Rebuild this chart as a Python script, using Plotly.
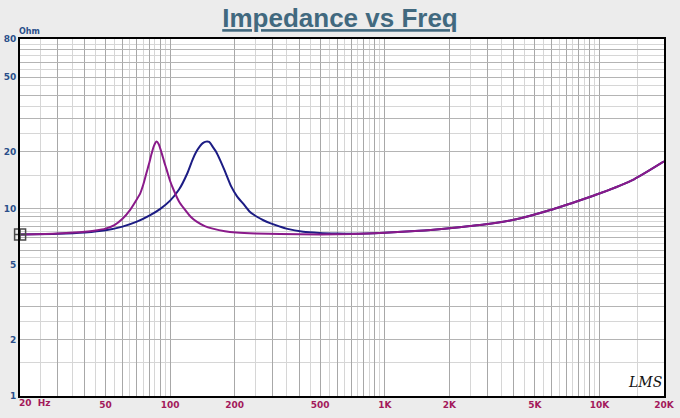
import math
import plotly.graph_objects as go

# --- data ---
freq_a = [20, 30, 40, 45, 50, 55, 60, 65, 70, 72.5, 75, 77.5, 80, 82, 84, 86.5, 88.5,
          91.5, 94, 96.5, 100, 104, 110, 116, 125, 133, 145, 158, 180, 203, 250, 325,
          500, 700, 1000, 1450, 2000, 2500, 2900, 4100, 5900, 8400, 10000, 14500, 20000]
z_a = [7.27, 7.36, 7.5, 7.62, 7.8, 8.15, 8.8, 9.8, 11.2, 12.0, 13.4, 15.4, 17.5, 19.6,
       21.5, 22.7, 22.0, 19.6, 17.6, 16.0, 14.0, 12.5, 10.9, 10.0, 9.0, 8.5, 8.05, 7.8,
       7.55, 7.43, 7.34, 7.3, 7.27, 7.3, 7.42, 7.6, 7.85, 8.05, 8.2, 8.75, 9.8, 11.2,
       12.0, 14.3, 17.8]

freq_b = [20, 30, 40, 50, 60, 70, 80, 90, 100, 110, 120, 127, 132,
          137.5, 142, 147, 152, 158, 164, 171, 180, 192.5, 205, 219, 235, 255, 272, 292,
          325, 348, 417, 497, 600, 711, 1000, 1450, 2000, 2500, 2900, 4100, 5900, 8400,
          10000, 14500, 20000]
z_b = [7.27, 7.33, 7.45, 7.65, 8.0, 8.5, 9.15, 9.95, 11.0, 12.6, 15.3,
       18.1, 19.9, 21.4, 22.3, 22.7, 22.6, 21.3, 20.0, 18.1, 15.8, 13.1, 11.6, 10.6,
       9.6, 9.0, 8.65, 8.35, 8.0, 7.8, 7.5, 7.4, 7.35, 7.33, 7.42, 7.6, 7.85, 8.05, 8.2,
       8.75, 9.8, 11.2, 12.0, 14.3, 17.8]

x_labels = {50: "50", 100: "100", 200: "200", 500: "500", 1000: "1K",
            2000: "2K", 5000: "5K", 10000: "10K", 20000: "20K"}
y_labels = {1: "1", 2: "2", 5: "5", 10: "10", 20: "20", 50: "50", 80: "80"}

# grid positions
x_major = sorted(set([m * d for d in (10, 100, 1000) for m in range(1, 10) if 20 <= m * d]
                     + [10000, 20000]))
x_minor = [m * d + d / 2 for d in (10, 100, 1000) for m in range(2, 10)] + [15000]
y_major = list(range(1, 10)) + list(range(10, 90, 10))
y_minor = [m + 0.5 for m in range(1, 10)] + [m + 5 for m in range(10, 80, 10)]

fig = go.Figure()
fig.add_trace(go.Scatter(x=freq_b, y=z_b, mode="lines",
                         line=dict(color="#1c1c84", width=2, shape="spline", smoothing=0.6),
                         hoverinfo="skip", showlegend=False))
fig.add_trace(go.Scatter(x=freq_a, y=z_a, mode="lines",
                         line=dict(color="#8a1a8a", width=2, shape="spline", smoothing=0.6),
                         hoverinfo="skip", showlegend=False))
# cursor marker at start
fig.add_trace(go.Scatter(x=[freq_a[0]], y=[z_a[0]], mode="markers",
                         marker=dict(symbol="square-cross-open", size=11,
                                     color="#4a4a4a", line=dict(width=1.5, color="#4a4a4a")),
                         cliponaxis=False, hoverinfo="skip", showlegend=False))

tickfont_x = dict(family="Verdana, DejaVu Sans", size=9, color="#a3195b", weight="bold")
tickfont_y = dict(family="Verdana, DejaVu Sans", size=9, color="#2a4f8a", weight="bold")

fig.update_layout(
    width=680, height=418,
    margin=dict(l=20, r=16, t=39, b=22, autoexpand=False),
    paper_bgcolor="#ececec",
    plot_bgcolor="#ffffff",
    title=dict(text="Impedance vs Freq", x=0.5, xanchor="center",
               y=1 - 18 / 418, yanchor="middle",
               font=dict(family="Liberation Sans, Arial", size=26, color="#41697f",
                         weight="bold", lineposition="under")),
    xaxis=dict(type="log", range=[math.log10(19.98), math.log10(20000)],
               tickmode="array", tickvals=x_major,
               ticktext=[x_labels.get(v, "") for v in x_major],
               tickfont=tickfont_x, ticks="", ticklabelstandoff=-1, automargin=False,
               showgrid=True, gridcolor="#a8a8a8", gridwidth=1,
               minor=dict(tickmode="array", tickvals=x_minor, showgrid=True,
                          gridcolor="#d6d6d6", gridwidth=1, ticks=""),
               showline=True, linecolor="#000000", linewidth=2, mirror=True,
               zeroline=False, fixedrange=True),
    yaxis=dict(type="log", range=[0, math.log10(80)],
               tickmode="array", tickvals=y_major,
               ticktext=[y_labels.get(v, "") for v in y_major],
               tickfont=tickfont_y, ticks="", ticklabelstandoff=0, automargin=False,
               showgrid=True, gridcolor="#b4b4b4", gridwidth=1,
               minor=dict(tickmode="array", tickvals=y_minor, showgrid=True,
                          gridcolor="#d6d6d6", gridwidth=1, ticks=""),
               showline=True, linecolor="#000000", linewidth=2, mirror=True,
               zeroline=False, fixedrange=True),
    annotations=[
        dict(text="20  Hz", xref="paper", yref="paper", x=0, y=0, xanchor="left",
             yanchor="top", xshift=-3, yshift=0, showarrow=False,
             font=dict(family="Verdana, DejaVu Sans", size=9, color="#a3195b", weight="bold")),
        dict(text="Ohm", xref="paper", yref="paper", x=0, y=1, xanchor="left",
             yanchor="bottom", xshift=-3, yshift=1, showarrow=False,
             font=dict(family="Verdana, DejaVu Sans", size=8, color="#2a4f8a", weight="bold")),
        dict(text="LMS", xref="paper", yref="paper", x=0.97, y=0.04, xanchor="center",
             yanchor="middle", showarrow=False,
             font=dict(family="DejaVu Serif", size=14, color="#111111", style="italic")),
    ],
)

fig.write_html("out.html")
